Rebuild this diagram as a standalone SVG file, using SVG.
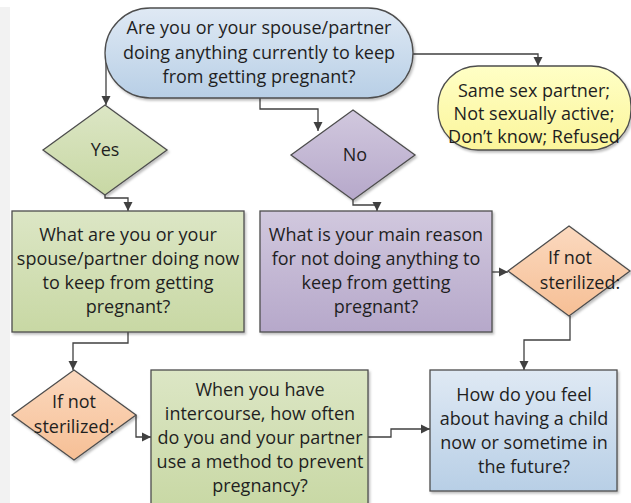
<svg xmlns="http://www.w3.org/2000/svg" width="631" height="503" viewBox="0 0 631 503">
<defs>
<style>
.t{font-family:"Open Sans","Liberation Sans",sans-serif;font-size:18px;fill:#1f1f1f;text-anchor:middle}
.s{stroke:#4d4d4d;stroke-width:1.3}
.c{fill:none;stroke:#404040;stroke-width:1.3}
</style>
<linearGradient id="gBlue" x1="0" y1="0" x2="0" y2="1"><stop offset="0" stop-color="#dfe9f4"/><stop offset="1" stop-color="#b8cfe6"/></linearGradient>
<linearGradient id="gGreen" x1="0" y1="0" x2="0" y2="1"><stop offset="0" stop-color="#dce6c5"/><stop offset="1" stop-color="#c8d8a4"/></linearGradient>
<linearGradient id="gPurple" x1="0" y1="0" x2="0" y2="1"><stop offset="0" stop-color="#d1c8de"/><stop offset="1" stop-color="#b6a8ca"/></linearGradient>
<linearGradient id="gOrange" x1="0" y1="0" x2="0" y2="1"><stop offset="0" stop-color="#fbd9bf"/><stop offset="1" stop-color="#f6bf95"/></linearGradient>
<linearGradient id="gYellow" x1="0" y1="0" x2="0" y2="1"><stop offset="0" stop-color="#ffffc6"/><stop offset="1" stop-color="#fbf59a"/></linearGradient>
<filter id="sh" x="-10%" y="-10%" width="120%" height="130%"><feDropShadow dx="1.5" dy="2" stdDeviation="1.2" flood-color="#000" flood-opacity="0.25"/></filter>
<marker id="ar" markerWidth="10" markerHeight="10" refX="9" refY="5" orient="auto" markerUnits="userSpaceOnUse"><path d="M0,0.5 L9,5 L0,9.5 Z" fill="#404040"/></marker>
</defs>
<rect x="0" y="0" width="631" height="503" fill="#ffffff"/>
<rect x="0" y="7" width="10" height="496" fill="#f2f2f2"/>
<g id="connectors" class="c">
<path d="M106,60 V105" marker-end="url(#ar)"/>
<path d="M260,98 V109 H318 V131" marker-end="url(#ar)"/>
<path d="M412,54 H538 V66" marker-end="url(#ar)"/>
<path d="M105,195 V198 H128 V211" marker-end="url(#ar)"/>
<path d="M353,200 V205 H377 V211" marker-end="url(#ar)"/>
<path d="M128,332 V343 H73 V370" marker-end="url(#ar)"/>
<path d="M136,415 V437 H151" marker-end="url(#ar)"/>
<path d="M492,272 H508" marker-end="url(#ar)"/>
<path d="M570,316 V340 H524 V370" marker-end="url(#ar)"/>
<path d="M368,437 H391 V429 H430" marker-end="url(#ar)"/>
</g>
<g id="start">
<rect x="105" y="8" width="308" height="90" rx="45" fill="url(#gBlue)" class="s" filter="url(#sh)"/>
<text class="t" x="259" y="34">Are you or your spouse/partner</text>
<text class="t" x="259" y="59">doing anything currently to keep</text>
<text class="t" x="259" y="83">from getting pregnant?</text>
</g>
<g id="other">
<rect x="438" y="66" width="193" height="84" rx="40" fill="url(#gYellow)" class="s" filter="url(#sh)"/>
<text class="t" x="534" y="97">Same sex partner;</text>
<text class="t" x="534" y="120">Not sexually active;</text>
<text class="t" x="534" y="143">Don’t know; Refused</text>
</g>
<g id="yes">
<path d="M105,105 L167,150 L105,195 L43,150 Z" fill="url(#gGreen)" class="s" filter="url(#sh)"/>
<text class="t" x="105" y="156">Yes</text>
</g>
<g id="no">
<path d="M353,110 L415,155 L353,200 L291,155 Z" fill="url(#gPurple)" class="s" filter="url(#sh)"/>
<text class="t" x="355" y="161">No</text>
</g>
<g id="method">
<rect x="12" y="211" width="232" height="121" fill="url(#gGreen)" class="s" filter="url(#sh)"/>
<text class="t" x="128" y="241">What are you or your</text>
<text class="t" x="128" y="265">spouse/partner doing now</text>
<text class="t" x="128" y="289">to keep from getting</text>
<text class="t" x="128" y="313">pregnant?</text>
</g>
<g id="reason">
<rect x="260" y="211" width="232" height="121" fill="url(#gPurple)" class="s" filter="url(#sh)"/>
<text class="t" x="376" y="241">What is your main reason</text>
<text class="t" x="376" y="265">for not doing anything to</text>
<text class="t" x="376" y="289">keep from getting</text>
<text class="t" x="376" y="313">pregnant?</text>
</g>
<g id="notster1">
<path d="M74,370 L136,415 L74,460 L12,415 Z" fill="url(#gOrange)" class="s" filter="url(#sh)"/>
<text class="t" x="74" y="408">If not</text>
<text class="t" x="74" y="433">sterilized:</text>
</g>
<g id="notster2">
<path d="M569,226 L630,271 L569,316 L508,271 Z" fill="url(#gOrange)" class="s" filter="url(#sh)"/>
<text class="t" x="570" y="264">If not</text>
<text class="t" x="580" y="289">sterilized:</text>
</g>
<g id="frequency">
<rect x="151" y="370" width="217" height="140" fill="url(#gGreen)" class="s" filter="url(#sh)"/>
<text class="t" x="260" y="396">When you have</text>
<text class="t" x="260" y="420">intercourse, how often</text>
<text class="t" x="260" y="444">do you and your partner</text>
<text class="t" x="260" y="468">use a method to prevent</text>
<text class="t" x="260" y="492">pregnancy?</text>
</g>
<g id="feel">
<rect x="430" y="370" width="187" height="121" fill="url(#gBlue)" class="s" filter="url(#sh)"/>
<text class="t" x="524" y="401">How do you feel</text>
<text class="t" x="524" y="425">about having a child</text>
<text class="t" x="524" y="449">now or sometime in</text>
<text class="t" x="524" y="473">the future?</text>
</g>
</svg>
